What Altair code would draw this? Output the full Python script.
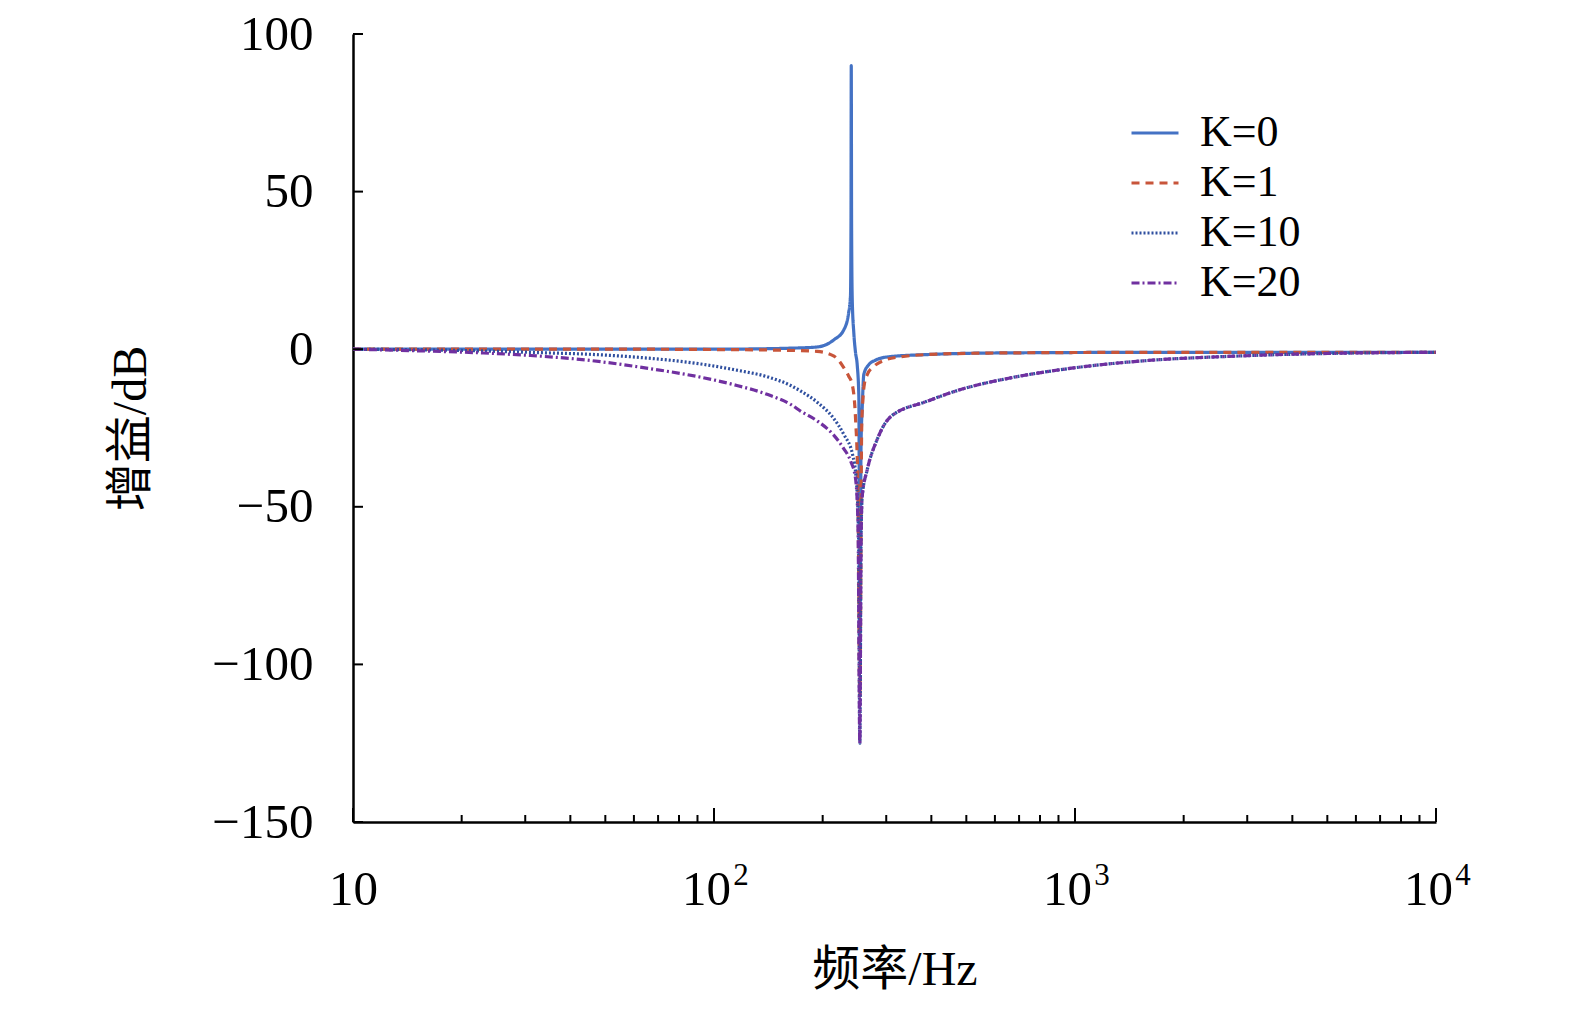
import altair as alt
import pandas as pd

# ---- data ----
series = ["K=0", "K=1", "K=10", "K=20"]
colors = ["#4472C4", "#C8553A", "#2F4F9F", "#7030A0"]
dashes = [[1, 0], [8, 6], [2, 2], [8, 3, 2, 3]]

f_k0 = [10, 20, 40, 70, 100, 130, 160, 193, 215, 229, 236, 238.8, 239.6, 240, 240.5,
        241.5, 244, 246.6, 249.3, 251.9, 253.5, 255.5, 257.5, 260, 268, 280, 305, 390,
        600, 1700, 4000, 10000]
db_k0 = [0, 0, 0, 0, 0, 0.1, 0.3, 0.7, 3.0, 6.2, 11.5, 16.8, 40, 90, 40,
         16, 5, -1, -5, -15, -95, -30, -18, -8, -5, -3.5, -2.4, -1.7,
         -1.2, -1.0, -1.0, -1.0]

f_k1 = [10, 30, 60, 100, 150, 193, 215, 229, 236, 241.5, 246.6, 250.5, 253.5, 256.5,
        258.5, 261, 266, 277, 300, 330, 390, 600, 1700, 4000, 10000]
db_k1 = [0, 0, 0, -0.1, -0.3, -0.7, -2.2, -5.9, -8.5, -11.2, -21.8, -45, -110, -25,
         -16, -11, -8, -5.5, -3.3, -2.4, -1.7, -1.2, -1.0, -1.0, -1.0]

f_k10 = [10, 15, 20, 33, 45, 62, 92, 115, 141, 163, 174, 194, 214, 229, 242, 248,
         251.5, 253.5, 255.5, 257.4, 265.8, 283, 308, 390, 482, 663, 912, 1255, 1726,
         2500, 4000, 6000, 10000]
db_k10 = [0, -0.2, -0.4, -1.1, -1.6, -2.6, -4.7, -6.6, -8.8, -11.5, -13.3, -17, -21.8,
          -27.1, -33.4, -42, -60, -125, -60, -46.6, -38.2, -28.7, -21.5, -16.5, -12.8,
          -9.1, -6.5, -4.6, -3.3, -2.4, -1.6, -1.2, -1.0]

f_k20 = [10, 15, 23, 31, 44, 65, 92, 113, 141, 163, 174, 194, 214, 228, 239, 246.5,
         250.5, 253.5, 255.5, 257.4, 265.8, 283, 308, 390, 482, 663, 912, 1255, 1726,
         2500, 4000, 6000, 10000]
db_k20 = [0, -0.5, -1.2, -2.0, -3.4, -6.0, -8.9, -11.2, -14.4, -17.5, -19.7, -22.9,
          -27.1, -31.3, -35.5, -40.8, -55, -125, -60, -46.6, -38.2, -28.7, -21.5, -16.5,
          -12.8, -9.1, -6.5, -4.6, -3.3, -2.4, -1.6, -1.2, -1.0]

x_major = [10, 100, 1000, 10000]
x_minor = [20, 30, 40, 50, 60, 70, 80, 90, 200, 300, 400, 500, 600, 700, 800, 900,
           2000, 3000, 4000, 5000, 6000, 7000, 8000, 9000]
x_exp_at = [100, 1000, 10000]
x_exp = ["2", "3", "4"]
y_ticks = [100, 50, 0, -50, -100, -150]

# ---- build table ----
rows = []
for name, fs, ds in zip(series, [f_k0, f_k1, f_k10, f_k20], [db_k0, db_k1, db_k10, db_k20]):
    for i, (f, d) in enumerate(zip(fs, ds)):
        rows.append({"f": f, "db": d, "K": name, "i": i})
df = pd.DataFrame(rows)

W, H = 1083, 788
SERIF = "Liberation Serif"
CJK = "Liberation Serif, Noto Sans CJK SC"

xscale = alt.Scale(type="log", domain=[10, 10000])
yscale = alt.Scale(domain=[-150, 100])

legend = alt.Legend(
    title=None, orient="none", legendX=777, legendY=74, symbolType="stroke",
    symbolSize=2209, symbolStrokeWidth=3, labelFont=SERIF, labelFontSize=44,
    labelColor="black", labelOffset=20, rowPadding=3, padding=0, labelLimit=0,
)

xaxis = alt.Axis(
    values=x_major, ticks=False, tickSize=0, grid=False, domainColor="black",
    domainWidth=2.5, labelFont=SERIF, labelFontSize=49, labelColor="black",
    labelPadding=67, labelBaseline="middle", labelFlush=False, labelOverlap=False,
    labelBound=False, labelExpr="'10'",
    labelOffset={"condition": {"test": "datum.value == 10", "value": 0}, "value": -8},
    title="频率/Hz", titleFont=CJK, titleFontSize=48, titleFontWeight="normal",
    titleColor="black", titleY=148, titleBaseline="middle",
)
yaxis = alt.Axis(
    values=y_ticks, ticks=False, tickSize=0, grid=False, domainColor="black",
    domainWidth=2.5, labelFont=SERIF, labelFontSize=49, labelColor="black",
    labelPadding=40, labelOverlap=False, labelBound=False, labelFlush=False,
    title="增益/dB", titleFont=CJK, titleFontSize=48, titleFontWeight="normal",
    titleColor="black", titleX=-222, titleBaseline="middle",
)

base = alt.Chart(df).mark_line(strokeWidth=3.2, interpolate="monotone").encode(
    x=alt.X("f:Q", scale=xscale, axis=xaxis),
    y=alt.Y("db:Q", scale=yscale, axis=yaxis),
    color=alt.Color("K:N", scale=alt.Scale(domain=series, range=colors), legend=legend),
    strokeDash=alt.StrokeDash("K:N", scale=alt.Scale(domain=series, range=dashes), legend=legend),
    order="i:Q",
)

line_layers = [base.transform_filter(alt.datum.K == s) for s in series]

major_ticks = alt.Chart(pd.DataFrame({"f": x_major})).mark_rule(color="black", strokeWidth=2).encode(
    x=alt.X("f:Q", scale=xscale, axis=xaxis), y=alt.value(H), y2=alt.value(H - 14)
)
minor_ticks = alt.Chart(pd.DataFrame({"f": x_minor})).mark_rule(color="black", strokeWidth=2).encode(
    x=alt.X("f:Q", scale=xscale, axis=xaxis), y=alt.value(H), y2=alt.value(H - 7)
)
ytick_layer = alt.Chart(pd.DataFrame({"db": y_ticks})).mark_rule(color="black", strokeWidth=2).encode(
    y=alt.Y("db:Q", scale=yscale, axis=yaxis), x=alt.value(0), x2=alt.value(10)
)
exponents = alt.Chart(pd.DataFrame({"f": x_exp_at, "s": x_exp})).mark_text(
    font=SERIF, fontSize=31, color="black", dx=27, align="center", baseline="middle"
).encode(
    x=alt.X("f:Q", scale=xscale, axis=xaxis), y=alt.value(H + 54), text="s:N"
)

chart = alt.layer(*line_layers, major_ticks, minor_ticks, ytick_layer, exponents).properties(
    width=W, height=H, autosize="none",
    padding={"left": 345, "top": 26, "right": 120, "bottom": 184},
).configure_view(stroke=None)

chart.save("out.html", embed_options={"renderer": "svg", "actions": False})
